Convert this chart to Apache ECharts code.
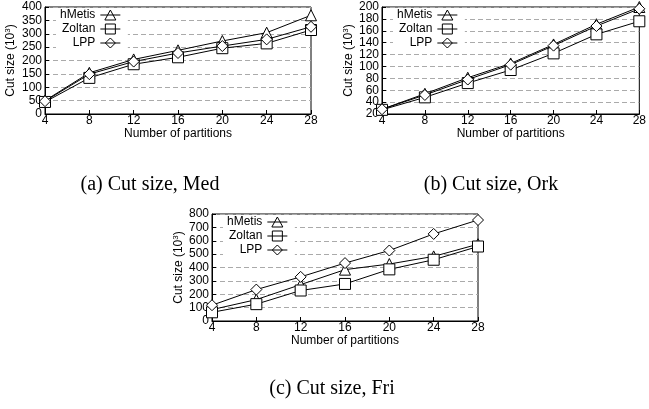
<!DOCTYPE html>
<html><head><meta charset="utf-8">
<script src="https://cdn.jsdelivr.net/npm/echarts@6/dist/echarts.min.js"></script>
<style>html,body{margin:0;padding:0;background:#fff}#c{width:649px;height:409px}</style>
</head><body><div id="c"></div>
<script>
const partitions = [4, 8, 12, 16, 20, 24, 28];
const seriesNames = ['hMetis', 'Zoltan', 'LPP'];
// (a) Med
const medHMetis = [50, 154, 204, 238, 273, 304, 369];
const medZoltan = [45, 135, 186, 212, 246, 264, 314];
const medLPP    = [48, 149, 196, 228, 254, 279, 326];
// (b) Ork
const orkHMetis = [28, 54, 81, 105, 137, 171, 200];
const orkZoltan = [27, 48, 72, 94, 122, 154, 176];
const orkLPP    = [28, 52, 78, 103, 135, 168, 197];
// (c) Fri
const friHMetis = [85, 160, 272, 384, 426, 483, 574];
const friZoltan = [65, 126, 228, 277, 386, 458, 557];
const friLPP    = [118, 235, 330, 433, 527, 651, 755];
const yTicksA = {min: 0, max: 400, interval: 50};
const yTicksB = {min: 20, max: 200, interval: 20};
const yTicksC = {min: 0, max: 800, interval: 100};
const captions = ['(a) Cut size, Med', '(b) Cut size, Ork', '(c) Cut size, Fri'];

const FONT = 'Liberation Sans';
const symbols = ['triangle', 'rect', 'diamond'];
const legendIcons = [
  'path://M0,5L20,5M10,0L15.5,10L4.5,10Z',
  'path://M0,5L20,5M5,0L15,0L15,10L5,10Z',
  'path://M0,5L20,5M10,0L15,5L10,10L5,5Z'
];
const grids = [
  {left: 45, top: 7, width: 266, height: 107},
  {left: 382, top: 7, width: 263, height: 107},
  {left: 212, top: 214, width: 266, height: 107}
];
const yConf = [yTicksA, yTicksB, yTicksC];
const nameGaps = [27, 26, 22];
const data = [
  [medHMetis, medZoltan, medLPP],
  [orkHMetis, orkZoltan, orkLPP],
  [friHMetis, friZoltan, friLPP]
];
const legendPos = [
  {left: 56, top: 8},
  {left: 393, top: 8},
  {left: 223, top: 215}
];
const option = {
  animation: false,
  backgroundColor: '#fff',
  title: [
    {text: captions[0], left: 145, top: 170, textAlign: 'center'},
    {text: captions[1], left: 486, top: 170, textAlign: 'center'},
    {text: captions[2], left: 327, top: 374, textAlign: 'center'}
  ].map(t => Object.assign(t, {textStyle: {fontFamily: 'Liberation Serif', fontWeight: 'normal', fontSize: 20, color: '#000'}})),
  grid: grids.map(g => Object.assign({show: true, borderColor: '#000', borderWidth: 1, backgroundColor: 'transparent'}, g)),
  xAxis: grids.map((g, i) => ({
    type: 'value', gridIndex: i, min: 4, max: 28, interval: 4,
    name: 'Number of partitions', nameLocation: 'middle', nameGap: 10,
    nameTextStyle: {fontFamily: FONT, fontSize: 12, color: '#000'},
    axisLine: {lineStyle: {color: '#000', width: 1}},
    axisTick: {inside: true, length: 4, lineStyle: {color: '#000'}},
    axisLabel: {fontFamily: FONT, fontSize: 12, color: '#000', margin: 1},
    splitLine: {show: false}
  })),
  yAxis: grids.map((g, i) => ({
    type: 'value', gridIndex: i, min: yConf[i].min, max: yConf[i].max, interval: yConf[i].interval,
    name: 'Cut size (10{sup|3})', nameLocation: 'middle', nameGap: nameGaps[i],
    nameTextStyle: {fontFamily: FONT, fontSize: 12, color: '#000',
      rich: {sup: {fontFamily: FONT, fontSize: 8, color: '#000', verticalAlign: 'top', padding: [0, 0, 6, 0]}}},
    axisLine: {lineStyle: {color: '#000', width: 1}},
    axisTick: {inside: true, length: 4, lineStyle: {color: '#000'}},
    axisLabel: {fontFamily: FONT, fontSize: 12, color: '#000', margin: 3},
    splitLine: {show: true, lineStyle: {color: '#aaa', type: [5, 3], width: 1}}
  })),
  legend: grids.map((g, i) => ({
    orient: 'vertical', align: 'right',
    left: legendPos[i].left, top: legendPos[i].top,
    data: seriesNames.map((n, s) => ({name: n + '\u200B'.repeat(i), icon: legendIcons[s]})),
    itemWidth: 20, itemHeight: 10, itemGap: 2,
    itemStyle: {color: '#fff', borderColor: '#000', borderWidth: 1},
    backgroundColor: '#fff', padding: [1, 7, 1, 4],
    textStyle: {fontFamily: FONT, fontSize: 12, color: '#000'}
  })),
  series: []
};
for (let i = 0; i < 3; i++) {
  for (let s = 0; s < 3; s++) {
    option.series.push({
      type: 'line', name: seriesNames[s] + '\u200B'.repeat(i),
      xAxisIndex: i, yAxisIndex: i,
      data: partitions.map((p, k) => [p, data[i][s][k]]),
      symbol: symbols[s], symbolSize: 11,
      lineStyle: {color: '#000', width: 1},
      itemStyle: {color: '#fff', borderColor: '#000', borderWidth: 1},
      z: 3 + s
    });
  }
}
const chart = echarts.init(document.getElementById('c'), null, {renderer: 'canvas'});
chart.setOption(option);
</script>
</body></html>
